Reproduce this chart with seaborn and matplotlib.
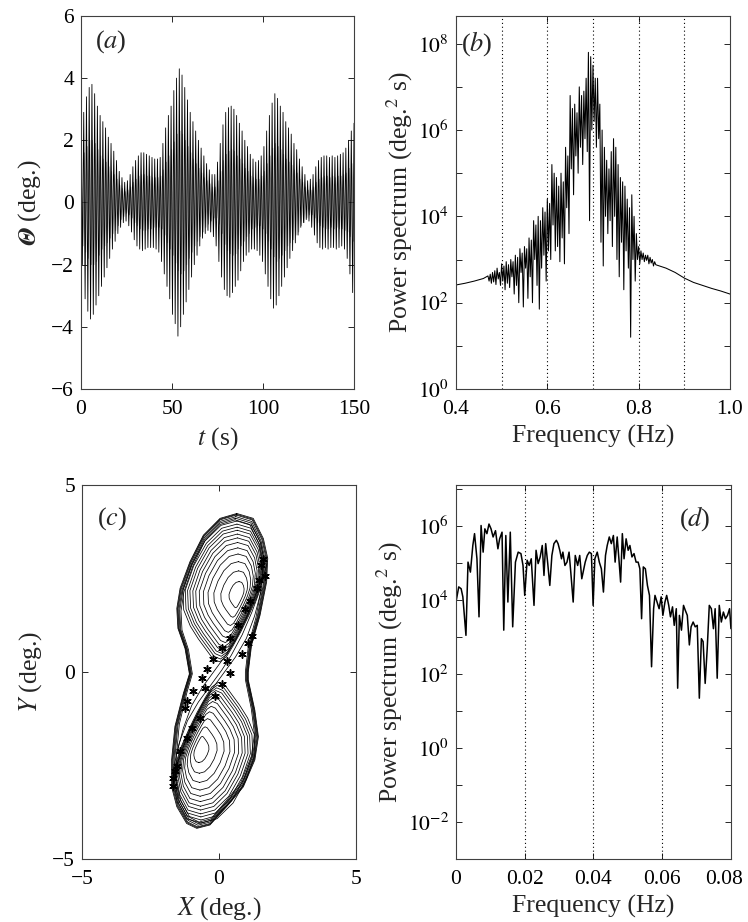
import matplotlib
matplotlib.use("Agg")
import matplotlib.pyplot as plt
import matplotlib.ticker as mticker
import matplotlib.transforms as mtransforms
import numpy as np
import pandas as pd
import seaborn as sns

# (a) time series: outer peak/trough per cycle and inner (grey) amplitude
A_UPPER = [2.6, 2.9, 3.4, 3.7, 3.8, 3.5, 3.1, 2.8, 2.6, 2.4,
           2.1, 1.9, 1.65, 1.35, 1.0, 0.8, 0.65, 0.7, 0.9, 1.15,
           1.35, 1.5, 1.6, 1.6, 1.55, 1.5, 1.45, 1.4, 1.4, 1.45,
           1.9, 2.4, 2.8, 3.1, 3.6, 4.0, 4.3, 4.1, 3.7, 3.3,
           2.9, 2.6, 2.3, 2.0, 1.75, 1.5, 1.25, 1.05, 0.9, 0.9,
           1.3, 1.9, 2.5, 2.9, 3.05, 3.1, 3.0, 2.8, 2.55, 2.3,
           2.0, 1.8, 1.55, 1.4, 1.3, 1.35, 1.5, 1.8, 2.3, 2.8,
           3.2, 3.5, 3.35, 3.1, 2.9, 2.6, 2.4, 2.2, 1.9, 1.7,
           1.4, 1.15, 0.9, 0.7, 0.75, 0.9, 1.15, 1.35, 1.45, 1.5,
           1.5, 1.45, 1.5, 1.45, 1.5, 1.55, 1.6, 1.75, 2.0, 2.3,
           2.55]
A_LOWER = [-2.0, -3.1, -3.5, -3.75, -3.6, -3.3, -3.0, -2.7, -2.4, -2.1,
           -1.8, -1.5, -1.25, -1.0, -0.8, -0.65, -0.6, -0.75, -0.95, -1.2,
           -1.4, -1.5, -1.55, -1.5, -1.45, -1.45, -1.45, -1.5, -1.6, -1.9,
           -2.3, -2.7, -3.1, -3.6, -3.9, -4.3, -4.0, -3.6, -3.2, -2.8,
           -2.4, -2.0, -1.7, -1.4, -1.15, -1.0, -0.9, -0.95, -1.1, -1.4,
           -1.9, -2.4, -2.8, -3.0, -3.05, -2.9, -2.7, -2.5, -2.2, -1.9,
           -1.7, -1.6, -1.5, -1.5, -1.55, -1.7, -1.9, -2.3, -2.7, -3.1,
           -3.4, -3.3, -3.0, -2.7, -2.4, -2.1, -1.8, -1.55, -1.3, -1.05,
           -0.8, -0.65, -0.55, -0.6, -0.8, -1.05, -1.3, -1.45, -1.5, -1.45,
           -1.5, -1.45, -1.45, -1.5, -1.45, -1.4, -1.5, -1.8, -2.3, -2.9]
A_INNER = [1.4, 1.6, 1.8, 2.0, 2.0, 1.9, 1.7, 1.5, 1.4, 1.3,
           1.15, 1.0, 0.9, 0.75, 0.55, 0.45, 0.35, 0.4, 0.5, 0.65,
           0.75, 0.85, 0.9, 0.9, 0.85, 0.85, 0.8, 0.8, 0.8, 0.85,
           1.05, 1.3, 1.5, 1.7, 1.95, 2.2, 2.3, 2.2, 2.0, 1.8,
           1.6, 1.4, 1.25, 1.1, 0.95, 0.8, 0.7, 0.6, 0.5, 0.5,
           0.7, 1.0, 1.35, 1.55, 1.65, 1.7, 1.65, 1.5, 1.4, 1.25,
           1.1, 1.0, 0.85, 0.8, 0.75, 0.75, 0.85, 1.0, 1.25, 1.5,
           1.75, 1.9, 1.8, 1.7, 1.55, 1.4, 1.3, 1.2, 1.05, 0.95,
           0.75, 0.65, 0.5, 0.4, 0.4, 0.5, 0.65, 0.75, 0.8, 0.85,
           0.85, 0.8, 0.85, 0.8, 0.85, 0.85, 0.9, 0.95, 1.1, 1.25,
           1.4]
A_CYCLE = 1.5  # seconds between peaks

# (b) power spectrum of theta, log10 values
B_LEFT_F = [0.40, 0.42, 0.44, 0.46]
B_LEFT_LOGP = [2.41, 2.45, 2.50, 2.56]
B_MID_LOGP = [2.62, 2.50, 2.66, 2.45, 2.70, 2.48, 2.74, 2.42,
              2.80, 2.55, 2.70, 2.40, 2.90, 2.50, 2.85, 2.30,
              2.95, 2.45, 2.88, 2.35, 3.00, 2.60, 2.95, 2.20,
              3.10, 2.40, 3.05, 2.00, 3.25, 2.70, 3.15, 1.90,
              3.30, 2.80, 3.25, 2.10, 3.50, 2.60, 3.45, 2.00,
              3.90, 3.00, 3.80, 2.40, 4.00, 1.85, 3.90, 2.80,
              4.20, 3.10, 4.10, 2.50, 4.40, 3.20, 4.30, 3.00,
              5.20, 3.80, 5.00, 3.20, 4.90, 3.30, 4.70, 2.95,
              5.00, 3.50, 4.80, 2.90, 5.60, 4.20, 5.40, 3.60,
              6.80, 5.10, 6.50, 4.50, 6.60, 5.40, 6.40, 5.00,
              7.00, 5.60, 6.80, 5.20, 6.90, 5.80, 7.20, 5.50,
              7.80, 3.90, 7.70, 6.00, 7.50, 6.20, 7.20, 5.60,
              7.20, 5.80, 6.60, 3.40, 6.00, 2.85, 5.60, 4.00,
              5.30, 3.60, 5.10, 3.90, 5.50, 3.30, 5.80, 4.00,
              5.60, 3.00, 5.20, 2.60, 4.90, 3.40, 4.80, 2.30,
              4.70, 3.20, 4.40, 2.80, 4.20, 1.20, 4.50, 3.00,
              4.00, 2.50, 3.60, 3.00, 3.30, 2.90, 3.20, 3.00,
              3.15, 2.95, 3.10, 2.98, 3.10, 2.90, 3.05, 2.92,
              3.00, 2.85, 2.95, 2.88]
B_MID_START, B_MID_STEP = 0.47, 0.0025
B_RIGHT_F = [0.84, 0.86, 0.88, 0.90, 0.92, 0.94, 0.96, 0.98, 1.00]
B_RIGHT_LOGP = [2.87, 2.80, 2.70, 2.57, 2.47, 2.40, 2.33, 2.27, 2.20]
B_GRID = [0.5, 0.6, 0.7, 0.8, 0.9]

# (c) phase portrait: outer boundary, upper-lobe loop, nested scales, crossings, stars
C_OUTER_X = [0.65, 1.25, 1.62, 1.78, 1.74, 1.50, 1.19, 1.07, 1.07, 1.31, 1.44,
             1.31, 0.89, 0.28, -0.33, -0.81, -1.18, -1.54, -1.73, -1.73, -1.61,
             -1.30, -1.08, -1.24, -1.50, -1.54, -1.42, -1.06, -0.57, 0.04, 0.65]
C_OUTER_Y = [4.24, 4.11, 3.57, 3.04, 2.41, 1.52, 0.72, 0.00, -0.21, -1.02, -1.73,
             -2.35, -3.07, -3.60, -4.09, -4.18, -4.05, -3.60, -3.07, -2.35, -1.46,
             -0.57, -0.05, 0.63, 1.17, 1.70, 2.24, 2.95, 3.66, 4.11, 4.24]
C_OUTER_SX = [1.0, 0.985, 0.97, 0.95, 0.93, 0.9]
C_OUTER_SY = [1.0, 0.995, 0.99, 0.98, 0.97, 0.96]
C_LOBE_X = [0.65, 1.20, 1.55, 1.68, 1.62, 1.40, 1.10, 0.80, 0.50, 0.25, 0.00,
            -0.25, -0.50, -0.80, -1.10, -1.35, -1.38, -1.05, -0.55, 0.05, 0.65]
C_LOBE_Y = [4.10, 3.98, 3.50, 3.00, 2.50, 2.00, 1.50, 1.05, 0.65, 0.35, 0.22,
            0.30, 0.55, 0.85, 1.20, 1.65, 2.20, 2.90, 3.55, 3.98, 4.10]
C_LOBE_CENTRE = (0.75, 2.05)
C_LOBE_SCALES = [0.97, 0.93, 0.89, 0.85, 0.80, 0.75, 0.69, 0.62, 0.54, 0.44,
                 0.32, 0.18]
C_CROSS_X = [[1.75, 1.50, 1.20, 0.85, 0.45, 0.10, -0.30, -0.75, -1.15, -1.45, -1.70],
             [1.60, 1.30, 1.00, 0.60, 0.20, -0.20, -0.60, -1.00, -1.30, -1.55],
             [1.55, 1.30, 1.00, 0.60, 0.20, -0.20, -0.60, -1.00, -1.30, -1.60]]
C_CROSS_Y = [[2.90, 2.20, 1.60, 1.00, 0.45, 0.05, -0.35, -0.80, -1.30, -1.90, -2.70],
             [2.60, 2.00, 1.45, 0.85, 0.40, 0.00, -0.40, -0.90, -1.50, -2.20],
             [2.20, 1.50, 0.90, 0.40, 0.00, -0.40, -0.85, -1.45, -2.00, -2.60]]
C_STAR_X = [1.62, 1.68, 1.55, 1.45, 1.37, 1.13, 0.95, 0.71, 0.40, 0.10, 1.19,
            1.07, 0.83, -0.21, -0.45, -0.63, 0.28, 0.40, 0.10, -0.15, -0.52,
            -0.94, -1.18, -1.24, -0.69, -1.00, -1.18, -1.42, -1.55, -1.60,
            -1.67, -1.67]
C_STAR_Y = [3.01, 2.57, 2.85, 2.45, 2.25, 1.90, 1.68, 1.27, 0.92, 0.65, 0.96,
            0.78, 0.47, 0.34, 0.07, -0.15, 0.29, -0.02, -0.33, -0.64, -0.42,
            -0.51, -0.78, -0.95, -1.22, -1.49, -1.76, -2.11, -2.50, -2.65,
            -2.83, -3.05]

# (d) low-frequency power spectrum, log10 values
D_FREQ = [0.0000, 0.0008, 0.0015, 0.0020, 0.0029, 0.0035, 0.0042, 0.0049, 0.0054, 0.0061,
          0.0067, 0.0073, 0.0079, 0.0084, 0.0090, 0.0096, 0.0102, 0.0108, 0.0115, 0.0122,
          0.0127, 0.0134, 0.0139, 0.0145, 0.0151, 0.0158, 0.0165, 0.0173, 0.0181, 0.0189,
          0.0195, 0.0200, 0.0207, 0.0213, 0.0219, 0.0227, 0.0233, 0.0239, 0.0245, 0.0251,
          0.0256, 0.0261, 0.0267, 0.0273, 0.0279, 0.0285, 0.0292, 0.0297, 0.0302, 0.0307,
          0.0311, 0.0317, 0.0323, 0.0329, 0.0334, 0.0341, 0.0347, 0.0354, 0.0360, 0.0366,
          0.0370, 0.0376, 0.0382, 0.0388, 0.0394, 0.0399, 0.0404, 0.0411, 0.0417, 0.0423,
          0.0429, 0.0435, 0.0440, 0.0446, 0.0452, 0.0458, 0.0463, 0.0469, 0.0474, 0.0479,
          0.0484, 0.0489, 0.0495, 0.0501, 0.0506, 0.0512, 0.0518, 0.0524, 0.0530, 0.0535,
          0.0540, 0.0545, 0.0551, 0.0557, 0.0563, 0.0569, 0.0575, 0.0579, 0.0585, 0.0591,
          0.0597, 0.0602, 0.0608, 0.0613, 0.0619, 0.0624, 0.0630, 0.0635, 0.0641, 0.0645,
          0.0650, 0.0656, 0.0662, 0.0667, 0.0673, 0.0679, 0.0684, 0.0690, 0.0696, 0.0702,
          0.0708, 0.0714, 0.0719, 0.0725, 0.0731, 0.0737, 0.0743, 0.0749, 0.0754, 0.0760,
          0.0766, 0.0772, 0.0778, 0.0784, 0.0790, 0.0796, 0.0800]
D_LOG_POWER = [3.95, 4.36, 4.31, 4.09, 3.05, 5.03, 4.76, 5.48, 5.80, 5.12,
               3.55, 6.02, 5.30, 5.93, 5.80, 6.06, 5.93, 5.71, 5.88, 5.39,
               5.66, 5.84, 3.19, 5.75, 3.95, 5.84, 3.28, 5.03, 5.30, 5.26,
               4.94, 4.13, 5.08, 4.94, 5.12, 3.86, 5.35, 4.99, 5.17, 5.48,
               4.67, 5.53, 4.99, 4.40, 5.21, 5.53, 5.62, 5.53, 5.35, 5.12,
               5.30, 4.94, 5.03, 5.30, 4.76, 3.95, 5.21, 4.94, 5.21, 4.58,
               4.76, 5.03, 5.21, 5.30, 5.26, 3.86, 5.12, 5.30, 5.03, 4.85,
               4.22, 5.21, 5.48, 5.71, 5.53, 5.75, 5.03, 5.71, 5.12, 4.49,
               5.80, 5.12, 5.66, 5.35, 5.48, 5.17, 5.26, 5.03, 5.03, 4.85,
               3.50, 4.90, 4.85, 4.40, 4.13, 2.20, 3.77, 4.13, 3.95, 3.77,
               4.09, 3.59, 3.95, 4.13, 3.86, 3.55, 3.82, 3.32, 3.77, 1.62,
               3.59, 3.19, 3.86, 3.73, 3.59, 2.79, 3.28, 3.41, 3.28, 3.32,
               1.35, 2.96, 2.88, 1.75, 2.70, 3.86, 3.77, 3.23, 3.77, 1.89,
               3.86, 3.41, 3.68, 3.50, 3.59, 3.77, 3.23]
D_GRID = [0.02, 0.04, 0.06]

sns.set_style("ticks")
plt.rcParams.update({
    "font.family": ["Liberation Serif", "DejaVu Serif"],
    "mathtext.fontset": "stix",
    "axes.linewidth": 0.8,
    "axes.edgecolor": "0.25",
    "xtick.direction": "in",
    "ytick.direction": "in",
    "xtick.top": True,
    "ytick.right": True,
    "xtick.major.size": 4,
    "ytick.major.size": 4,
    "xtick.major.width": 0.7,
    "ytick.major.width": 0.7,
    "xtick.major.pad": 8,
    "ytick.major.pad": 5,
    "xtick.labelsize": 15.5,
    "ytick.labelsize": 15.5,
    "axes.labelsize": 18.5,
})

LABEL_FS = 19


def even_decades(value, _pos):
    exponent = int(round(np.log10(value)))
    return rf"$10^{{{exponent}}}$" if exponent % 2 == 0 else ""


def log_axis(ax):
    ax.set_yscale("log")
    ax.yaxis.set_major_locator(mticker.LogLocator(base=10, subs=(1.0,), numticks=30))
    ax.yaxis.set_minor_locator(mticker.NullLocator())
    ax.yaxis.set_major_formatter(mticker.FuncFormatter(even_decades))


fig = plt.figure(figsize=(7.48, 9.22), dpi=100)
ax_a = fig.add_axes([0.1083, 0.5781, 0.365, 0.4046])
ax_b = fig.add_axes([0.6096, 0.5781, 0.3663, 0.4046])
ax_c = fig.add_axes([0.1096, 0.0683, 0.3663, 0.4056])
ax_d = fig.add_axes([0.6096, 0.0683, 0.3676, 0.4056])

# ---- (a) oscillation record
t_up = np.arange(len(A_UPPER)) * A_CYCLE
t_lo = t_up[:-1] + A_CYCLE / 2
zig_t = np.empty(len(t_up) + len(t_lo))
zig_v = np.empty_like(zig_t)
zig_t[0::2], zig_t[1::2] = t_up, t_lo
zig_v[0::2], zig_v[1::2] = A_UPPER, A_LOWER
inner = np.asarray(A_INNER)
in_t = np.empty(2 * len(inner))
in_v = np.empty_like(in_t)
in_t[0::2], in_t[1::2] = t_up + A_CYCLE / 4, t_up + 3 * A_CYCLE / 4
in_v[0::2], in_v[1::2] = inner, -inner
sns.lineplot(x=in_t, y=in_v, sort=False, estimator=None, color="0.5",
             linewidth=0.5, ax=ax_a)
sns.lineplot(x=zig_t, y=zig_v, sort=False, estimator=None, color="black",
             linewidth=0.6, ax=ax_a)
ax_a.set(xlim=(0, 150), ylim=(-6, 6), xticks=[0, 50, 100, 150],
         yticks=[-6, -4, -2, 0, 2, 4, 6])
ax_a.set_xlabel(r"$t$ (s)")
ax_a.set_ylabel(r"$\mathbfit{\Theta}$ (deg.)", labelpad=6)
ax_a.text(0.05, 0.93, r"($a$)", transform=ax_a.transAxes, fontsize=LABEL_FS, va="center")

# ---- (b) spectrum around the forcing frequency
b_mid_f = B_MID_START + B_MID_STEP * np.arange(len(B_MID_LOGP))
b_freq = np.concatenate([B_LEFT_F, b_mid_f, B_RIGHT_F])
b_pow = 10.0 ** np.concatenate([B_LEFT_LOGP, B_MID_LOGP, B_RIGHT_LOGP])
for f in B_GRID:
    ax_b.axvline(f, color="black", linestyle=(0, (1, 2.5)), linewidth=0.8)
sns.lineplot(x=b_freq, y=b_pow, sort=False, estimator=None, color="black",
             linewidth=0.75, ax=ax_b)
log_axis(ax_b)
ax_b.set(xlim=(0.4, 1.0), ylim=(1, 4.4e8), xticks=[0.4, 0.6, 0.8, 1.0])
ax_b.xaxis.set_major_formatter(mticker.FormatStrFormatter("%.1f"))
ax_b.set_xlabel("Frequency (Hz)")
ax_b.set_ylabel(r"Power spectrum (deg.$^{2}$ s)", labelpad=2)
ax_b.text(0.02, 0.925, r"($b$)", transform=ax_b.transAxes, fontsize=LABEL_FS, va="center")

# ---- (c) phase portrait
loops = []
ox, oy = np.asarray(C_OUTER_X), np.asarray(C_OUTER_Y)
for i, (sx, sy) in enumerate(zip(C_OUTER_SX, C_OUTER_SY)):
    loops.append(pd.DataFrame({"x": ox * sx, "y": oy * sy, "loop": f"o{i}"}))
lx, ly = np.asarray(C_LOBE_X), np.asarray(C_LOBE_Y)
cx, cy = C_LOBE_CENTRE
for i, s in enumerate(C_LOBE_SCALES):
    px = cx + s * (lx - cx)
    py = cy + s * (ly - cy)
    loops.append(pd.DataFrame({"x": px, "y": py, "loop": f"u{i}"}))
    loops.append(pd.DataFrame({"x": -px, "y": -py, "loop": f"l{i}"}))
for i, (xs, ys) in enumerate(zip(C_CROSS_X, C_CROSS_Y)):
    loops.append(pd.DataFrame({"x": xs, "y": ys, "loop": f"x{i}"}))
loops = pd.concat(loops, ignore_index=True)
sns.lineplot(data=loops, x="x", y="y", units="loop", estimator=None, sort=False,
             color="black", linewidth=0.55, ax=ax_c)
sns.scatterplot(x=C_STAR_X, y=C_STAR_Y, marker=(6, 2, 0), s=28, color="black",
                edgecolor="black", linewidth=1.1, ax=ax_c)
ax_c.set(xlim=(-5, 5), ylim=(-5, 5), xticks=[-5, 0, 5], yticks=[-5, 0, 5])
ax_c.set_xlabel(r"$X$ (deg.)")
ax_c.set_ylabel(r"$Y$ (deg.)", labelpad=6)
ax_c.text(0.055, 0.91, r"($c$)", transform=ax_c.transAxes, fontsize=LABEL_FS, va="center")

# ---- (d) low-frequency spectrum
for f in D_GRID:
    ax_d.axvline(f, color="black", linestyle=(0, (1, 2.5)), linewidth=0.8)
sns.lineplot(x=D_FREQ, y=10.0 ** np.asarray(D_LOG_POWER), sort=False, estimator=None,
             color="black", linewidth=1.1, ax=ax_d)
log_axis(ax_d)
ax_d.set(xlim=(0, 0.08), ylim=(1e-3, 1.3e7), xticks=[0, 0.02, 0.04, 0.06, 0.08])
ax_d.xaxis.set_major_formatter(mticker.FuncFormatter(
    lambda v, _p: "0" if abs(v) < 1e-9 else f"{v:.2f}"))
ax_d.set_xlabel("Frequency (Hz)")
ax_d.set_ylabel(r"Power spectrum (deg.$^{2}$ s)", labelpad=2)
ax_d.text(0.81, 0.91, r"($d$)", transform=ax_d.transAxes, fontsize=LABEL_FS, va="center")

for ax in (ax_a, ax_b, ax_c, ax_d):
    ax.tick_params(which="both", colors="0.15", labelcolor="black")

fig.canvas.draw()
last = ax_d.get_xticklabels()[-1]
last.set_transform(last.get_transform()
                   + mtransforms.ScaledTranslation(-5 / 72, 0, fig.dpi_scale_trans))

fig.savefig("out.png", dpi=100)
plt.close(fig)
